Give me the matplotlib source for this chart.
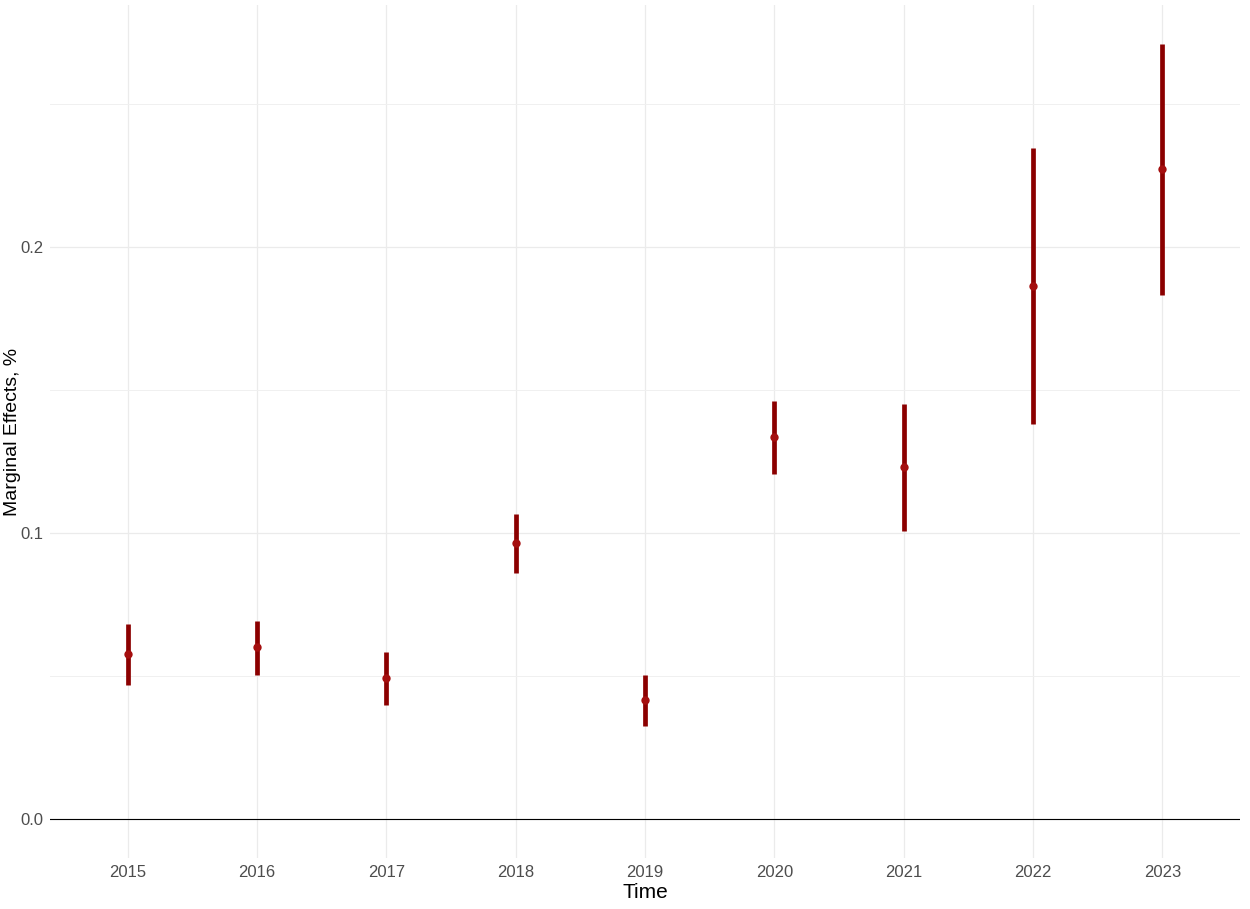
import matplotlib
matplotlib.use("Agg")
import matplotlib.pyplot as plt

years = [2015, 2016, 2017, 2018, 2019, 2020, 2021, 2022, 2023]
estimate = [0.0577, 0.0601, 0.0493, 0.0965, 0.0416, 0.1336, 0.1231, 0.1864, 0.2273]
ci_low = [0.0469, 0.0503, 0.0399, 0.0860, 0.0325, 0.1206, 0.1007, 0.1381, 0.1832]
ci_high = [0.0682, 0.0692, 0.0584, 0.1066, 0.0503, 0.1462, 0.1451, 0.2346, 0.2710]
y_ticks = [0.0, 0.1, 0.2]
y_tick_labels = ["0.0", "0.1", "0.2"]

tick_font = "Liberation Sans"

fig = plt.figure(figsize=(12.5, 9.09), dpi=100)
ax = fig.add_axes([0.04, 0.0561, 0.952, 0.9384])

xpos = list(range(len(years)))
for x, lo, hi in zip(xpos, ci_low, ci_high):
    ax.plot([x, x], [lo, hi], color="#8B0000", lw=3.4, solid_capstyle="butt", zorder=3)
ax.plot(xpos, estimate, "o", color="#A50F0F", markersize=6, markeredgewidth=0, zorder=4)

ax.axhline(0, color="black", lw=0.8, zorder=2)

ymin = 0 - 0.05 * 0.271
ymax = 0.271 + 0.05 * 0.271
ax.set_ylim(ymin, ymax)
ax.set_xlim(-0.6, len(years) - 1 + 0.6)

ax.set_yticks(y_ticks)
ax.set_yticklabels(y_tick_labels)
ax.set_yticks([0.05, 0.15, 0.25], minor=True)
ax.set_xticks(xpos)
ax.set_xticklabels([str(y) for y in years])

ax.grid(True, which="major", color="#EBEBEB", lw=0.9, zorder=0)
ax.grid(True, which="minor", axis="y", color="#F0F0F0", lw=0.7, zorder=0)
ax.set_axisbelow(True)
for s in ax.spines.values():
    s.set_visible(False)
ax.tick_params(which="both", length=0, labelsize=12, labelcolor="#4D4D4D", pad=5)
for lab in ax.get_xticklabels() + ax.get_yticklabels():
    lab.set_fontfamily(tick_font)

ax.set_xlabel("Time", fontsize=15, family=tick_font, labelpad=2)
ax.set_ylabel("Marginal Effects, %", fontsize=14, family="Liberation Sans")
ax.yaxis.set_label_coords(-0.024, (858 - 432) / 853)

fig.savefig("out.png", dpi=100)
